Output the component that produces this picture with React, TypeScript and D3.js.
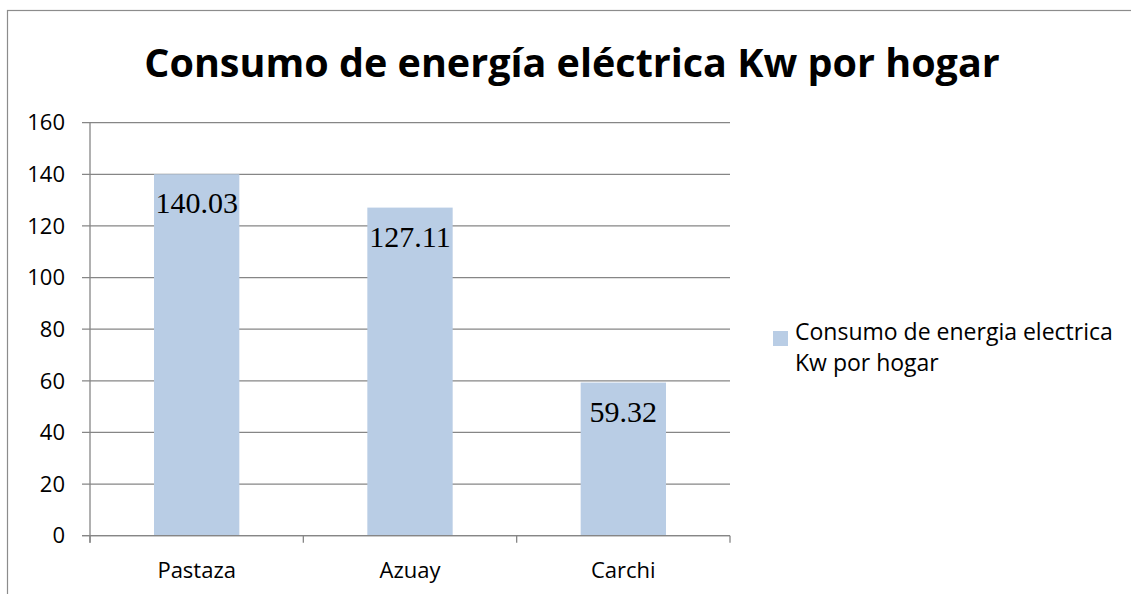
import React from "react";
import * as d3 from "d3";

const categories = ["Pastaza", "Azuay", "Carchi"];
const values = [140.03, 127.11, 59.32];
const valueLabels = ["140.03", "127.11", "59.32"];
const yTicks = [0, 20, 40, 60, 80, 100, 120, 140, 160];
const title = "Consumo de energía eléctrica Kw por hogar";
const legendLines = ["Consumo de energia electrica", "Kw por hogar"];

const W = 1131;
const H = 594;
const plot = { left: 90, right: 730, top: 122.7, bottom: 535.7 };
const grid = "#868686";
const barColor = "#B9CDE5";
const sans = "'Open Sans', 'Noto Sans', sans-serif";

export default function App() {
  const x = d3
    .scaleBand<string>()
    .domain(categories)
    .range([plot.left, plot.right])
    .paddingInner(0.6)
    .paddingOuter(0.3);
  const y = d3.scaleLinear().domain([0, 160]).range([plot.bottom, plot.top]);
  const step = x.step();
  const boundaries = d3.range(categories.length + 1).map((i) => plot.left + i * step);

  return (
    <svg
      width={W}
      height={H}
      style={{ position: "absolute", left: 0, top: 0, background: "#fff" }}
    >
      <rect x={7.5} y={10.5} width={W + 50} height={H + 50} fill="#fff" stroke="#8c8c8c" strokeWidth={1.2} />
      <text
        x={572}
        y={77}
        textAnchor="middle"
        fontFamily={sans}
        fontWeight="bold"
        fontSize={39.5}
        fill="#000"
      >
        {title}
      </text>
      {yTicks.map((t) => (
        <g key={t}>
          <line
            x1={plot.left - 8}
            x2={plot.right}
            y1={y(t)}
            y2={y(t)}
            stroke={grid}
            strokeWidth={1.3}
          />
          <text
            x={65}
            y={y(t)}
            dy="0.35em"
            textAnchor="end"
            fontFamily={sans}
            fontSize={22}
            fill="#000"
          >
            {t}
          </text>
        </g>
      ))}
      {categories.map((c, i) => (
        <rect
          key={c}
          x={x(c)}
          y={y(values[i])}
          width={x.bandwidth()}
          height={plot.bottom - y(values[i])}
          fill={barColor}
        />
      ))}
      <line x1={plot.left} x2={plot.left} y1={plot.top} y2={plot.bottom + 7} stroke={grid} strokeWidth={1.3} />
      <line x1={plot.left - 8} x2={plot.right} y1={plot.bottom} y2={plot.bottom} stroke={grid} strokeWidth={1.3} />
      {boundaries.map((b, i) => (
        <line key={i} x1={b} x2={b} y1={plot.bottom} y2={plot.bottom + 7} stroke={grid} strokeWidth={1.3} />
      ))}
      {categories.map((c, i) => (
        <text
          key={c}
          x={(x(c) as number) + x.bandwidth() / 2}
          y={578}
          textAnchor="middle"
          fontFamily={sans}
          fontSize={22}
          fill="#000"
        >
          {c}
        </text>
      ))}
      {categories.map((c, i) => (
        <text
          key={c}
          x={(x(c) as number) + x.bandwidth() / 2}
          y={y(values[i]) + 39}
          textAnchor="middle"
          fontFamily="'Liberation Serif', 'Times New Roman', serif"
          fontSize={30}
          fill="#000"
        >
          {valueLabels[i]}
        </text>
      ))}
      <rect x={773} y={331} width={15} height={15} fill={barColor} />
      {legendLines.map((l, i) => (
        <text
          key={i}
          x={795}
          y={340 + i * 31}
          fontFamily={sans}
          fontSize={23}
          fill="#000"
        >
          {l}
        </text>
      ))}
    </svg>
  );
}
